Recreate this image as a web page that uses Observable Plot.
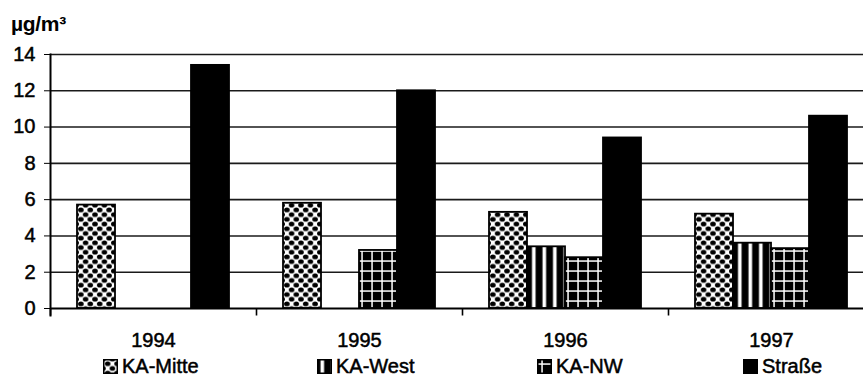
<!DOCTYPE html>
<html>
<head>
<meta charset="utf-8">
<script src="https://cdn.jsdelivr.net/npm/d3@7"></script>
<script src="https://cdn.jsdelivr.net/npm/@observablehq/plot@0.6"></script>
<style>
  body { margin: 0; width: 863px; height: 378px; overflow: hidden; position: relative; background: #fff;
         font-family: "Liberation Sans", Arial, sans-serif; color: #000; }
  #unit { position: absolute; left: 11px; top: 13px; font-size: 21px; line-height: 21px; font-weight: bold; letter-spacing: -0.3px; }
  #chart { position: absolute; left: 0; top: 36px; }
  #chart svg text { stroke: #000; stroke-width: 0.5px; }
  .item { position: absolute; top: 358px; font-size: 20px; line-height: 16px; white-space: nowrap; -webkit-text-stroke: 0.5px #000; }
  .item svg { position: absolute; top: 1px; }
</style>
</head>
<body>
<div id="unit">µg/m³</div>
<div id="chart"></div>
<div id="legend"></div>
<script>
// Jahresmittelwerte je Messstation (µg/m³); fehlende Messungen als null
const years = ["1994", "1995", "1996", "1997"];
const stations = ["KA-Mitte", "KA-West", "KA-NW", "Straße"];
const kaMitte = [5.7, 5.8, 5.3, 5.2];
const kaWest = [null, null, 3.4, 3.6];
const kaNW = [null, 3.2, 2.8, 3.3];
const strasse = [13.4, 12.0, 9.4, 10.6];
const yTicks = [0, 2, 4, 6, 8, 10, 12, 14];

// Flächenmuster je Station
const fills = ["url(#p-mitte)", "url(#p-west)", "url(#p-nw)", "#000"];

const series = [kaMitte, kaWest, kaNW, strasse];
const rows = [];
years.forEach((year, i) => {
  stations.forEach((station, j) => {
    const v = series[j][i];
    if (v != null) rows.push({year, station, value: v});
  });
});

// kurzer senkrechter Strich unter der Achse an jeder Gruppengrenze
const vtick = {draw(context) { context.moveTo(0, 0); context.lineTo(0, 7); }};

const chart = Plot.plot({
  width: 863,
  height: 322,
  marginTop: 18,
  marginBottom: 50,
  marginLeft: 49,
  marginRight: -12,
  style: {fontFamily: "'Liberation Sans', Arial, sans-serif", fontSize: "20px", color: "#000", background: "#fff"},
  fx: {domain: years, padding: 0, axis: "bottom", tickSize: 0, tickPadding: 24, label: null},
  x: {domain: stations, paddingInner: 0, paddingOuter: 0.7, axis: null},
  y: {domain: [0, 14], ticks: yTicks, tickSize: 6, tickPadding: 9, label: null},
  color: {domain: stations, range: fills},
  marks: [
    Plot.ruleY(yTicks.filter(d => d > 0), {stroke: "#1a1a1a", strokeWidth: 1.6}),
    Plot.barY(rows, {fx: "year", x: "station", y: "value", fill: "station", stroke: "#000", strokeWidth: 1.8}),
    Plot.ruleY([0], {stroke: "#000", strokeWidth: 2}),
    Plot.frame({anchor: "left", facetAnchor: "left", insetBottom: -7, stroke: "#000", strokeWidth: 2}),
    Plot.dot([0], {frameAnchor: "bottom-left", symbol: vtick, stroke: "#000", strokeWidth: 1.6, fill: "none"})
  ]
});

// Musterdefinitionen in das SVG einfügen
const defs = d3.select(chart).insert("defs", ":first-child");
const pm = defs.append("pattern").attr("id", "p-mitte").attr("patternUnits", "userSpaceOnUse")
  .attr("width", 9.4).attr("height", 9.4);
pm.append("rect").attr("width", 9.4).attr("height", 9.4).attr("fill", "#fff");
[[0, 0], [9.4, 0], [0, 9.4], [9.4, 9.4], [4.7, 4.7]].forEach(([cx, cy]) =>
  pm.append("ellipse").attr("cx", cx).attr("cy", cy).attr("rx", 2.8).attr("ry", 2.4).attr("fill", "#000"));

const pw = defs.append("pattern").attr("id", "p-west").attr("patternUnits", "userSpaceOnUse")
  .attr("width", 10.5).attr("height", 10);
pw.append("rect").attr("width", 10.5).attr("height", 10).attr("fill", "#000");
pw.append("rect").attr("x", 3.5).attr("width", 3.6).attr("height", 10).attr("fill", "#fff");

const pn = defs.append("pattern").attr("id", "p-nw").attr("patternUnits", "userSpaceOnUse")
  .attr("width", 10).attr("height", 10);
pn.append("rect").attr("width", 10).attr("height", 10).attr("fill", "#000");
pn.append("rect").attr("x", 4.3).attr("width", 1.5).attr("height", 10).attr("fill", "#fff");
pn.append("rect").attr("y", 4.3).attr("width", 10).attr("height", 1.5).attr("fill", "#fff");

document.getElementById("chart").append(chart);

// Legende unter dem Diagramm
const legendLeft = [103, 317, 537, 743];
const legend = d3.select("#legend");
stations.forEach((s, i) => {
  const item = legend.append("div").attr("class", "item").style("left", legendLeft[i] + "px");
  const sw = item.append("svg").attr("width", 15).attr("height", 15);
  sw.append("rect").attr("x", 0.75).attr("y", 0.75).attr("width", 13.5).attr("height", 13.5)
    .attr("fill", fills[i]).attr("stroke", "#000").attr("stroke-width", 1.5);
  item.append("span").style("margin-left", "19px").text(s);
});
</script>
</body>
</html>
